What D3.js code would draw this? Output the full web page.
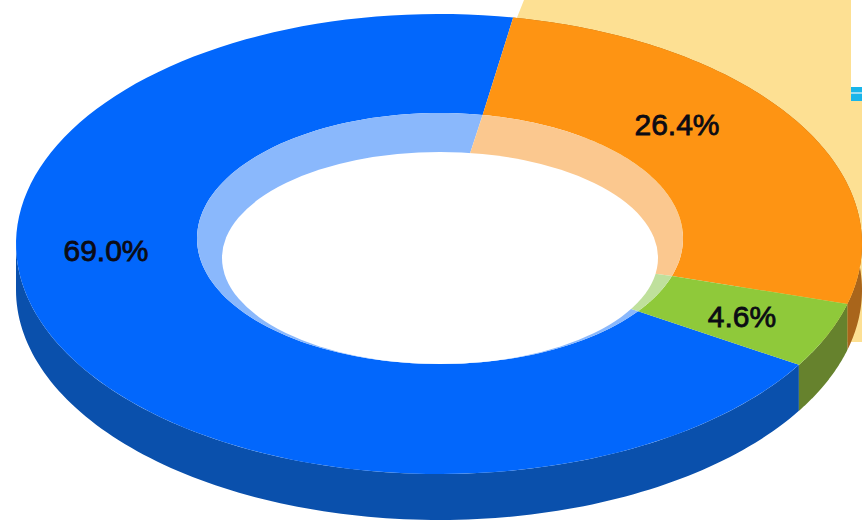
<!DOCTYPE html>
<html>
<head>
<meta charset="utf-8">
<script src="https://cdn.jsdelivr.net/npm/d3@7/dist/d3.min.js"></script>
<style>
    html, body { margin: 0; padding: 0; background: #fff; }
    svg { display: block; }
    text { font-family: "Liberation Sans", Arial, sans-serif; }
</style>
</head>
<body>
<div id="chart"></div>
<script>
const categories = ["A", "B", "C"];
const shares = [69.0, 26.4, 4.6];
const labels = ["69.0%", "26.4%", "4.6%"];

const topColors = ["#0267fc", "#fe9413", "#8fc93a"];
const wallColors = ["#0a50ac", "#a9651b", "#66822d"];
const innerColors = ["#8ab8fc", "#fbc88f", "#bfe09c"];

const width = 862,
    height = 520,
    depth = 46,
    step = Math.PI / 180;

// flattened ellipses of the tilted ring
const outer = { cx: 439, cy: 244, rx: 423, ry: 230 },
    hole = { cx: 440, cy: 238.5, rx: 243, ry: 125.5 },
    core = { cx: 440, cy: 258, rx: 218, ry: 106 };

// the seams are not quite radial on the hole edge (degrees, per slice start)
const seamShift = [3.7, 0, 2.2];

const labelSpots = [[106, 250], [677, 124], [742, 316]];

// blue runs clockwise from the green edge round to the top
const pie = d3.pie().sort(null).startAngle(121.7 * step).endAngle(481.7 * step);
const slices = pie(shares);

const line = d3.line();

function pointOn(e, angle, dy = 0) {
    return [e.cx + e.rx * Math.sin(angle), e.cy + dy - e.ry * Math.cos(angle)];
}

function arcPoints(e, a0, a1, dy = 0) {
    return d3.range(0, 121).map(i => pointOn(e, a0 + (a1 - a0) * i / 120, dy));
}

function holeStart(d, i) {
    return d.startAngle + seamShift[i] * step;
}

function holeEnd(d, i) {
    return d.endAngle + seamShift[(i + 1) % seamShift.length] * step;
}

const svg = d3.select("#chart").append("svg")
    .attr("width", width)
    .attr("height", height);

// pale backdrop panel behind the ring
svg.append("path")
    .attr("fill", "#fde093")
    .attr("d", line([[524, 0], [851, 0], [851, 101], [862, 101], [862, 342], [800, 342], [500, 60]]) + "Z");

// cut off bars at the right edge
svg.append("rect")
    .attr("x", 851).attr("y", 87).attr("width", 11).attr("height", 14)
    .attr("fill", "#9adcf2");
svg.append("rect")
    .attr("x", 851).attr("y", 87).attr("width", 11).attr("height", 5)
    .attr("fill", "#19b5ea");
svg.append("rect")
    .attr("x", 851).attr("y", 94).attr("width", 11).attr("height", 7)
    .attr("fill", "#19b5ea");

// outer wall, only the part facing the viewer
slices.forEach((d, i) => {
    const from = i === 0 ? d.startAngle : Math.max(d.startAngle, 90 * step);
    const to = Math.min(d.endAngle, 270 * step);
    const end = i === 0 ? to : d.endAngle;
    if (end <= from) return;
    svg.append("path")
        .attr("fill", wallColors[i])
        .attr("d", line(arcPoints(outer, from, end).concat(arcPoints(outer, end, from, depth))) + "Z");
});

// top face of each slice
slices.forEach((d, i) => {
    svg.append("path")
        .attr("fill", topColors[i])
        .attr("d", line(arcPoints(outer, d.startAngle, d.endAngle).concat(arcPoints(hole, holeEnd(d, i), holeStart(d, i)))) + "Z");
});

// inner wall seen through the hole
const holeMiddle = [440, 245];
slices.forEach((d, i) => {
    svg.append("path")
        .attr("fill", innerColors[i])
        .attr("d", line(arcPoints(hole, holeStart(d, i), holeEnd(d, i)).concat([holeMiddle])) + "Z");
});

svg.append("ellipse")
    .attr("cx", core.cx).attr("cy", core.cy)
    .attr("rx", core.rx).attr("ry", core.ry)
    .attr("fill", "#fff");

svg.selectAll("text.share")
    .data(labels)
    .enter()
    .append("text")
    .attr("class", "share")
    .attr("x", (d, i) => labelSpots[i][0])
    .attr("y", (d, i) => labelSpots[i][1])
    .attr("text-anchor", "middle")
    .attr("dominant-baseline", "central")
    .attr("font-size", 30)
    .attr("fill", "#0b0b14")
    .attr("stroke", "#0b0b14")
    .attr("stroke-width", 0.8)
    .text(d => d);
</script>
</body>
</html>
